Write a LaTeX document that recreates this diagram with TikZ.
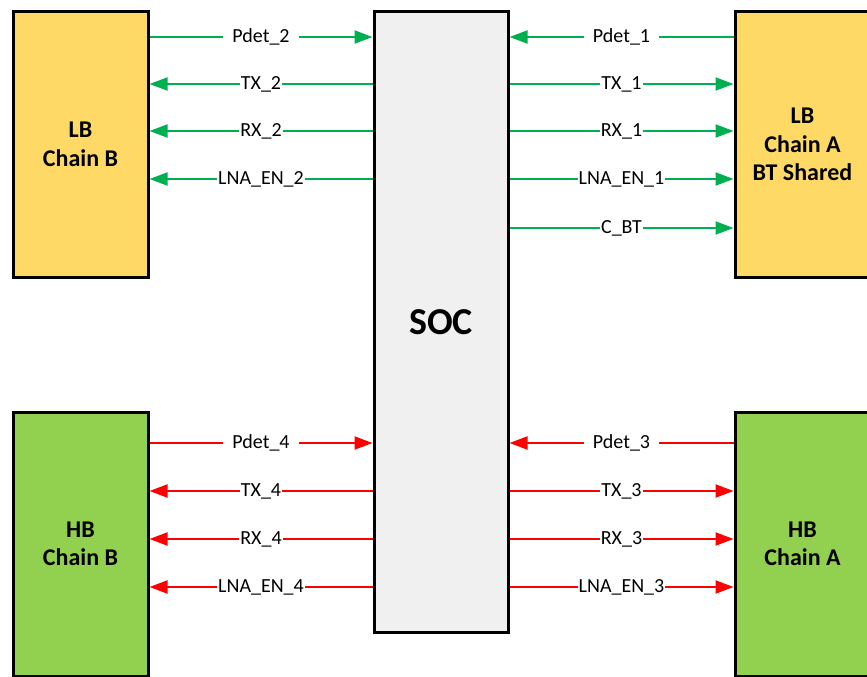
\documentclass[tikz,border=0pt]{standalone}
\usepackage{fontspec}
\setmainfont{Carlito}
\usetikzlibrary{arrows.meta}
\definecolor{boxyellow}{HTML}{FFD966}
\definecolor{boxgreen}{HTML}{92D050}
\definecolor{socgrey}{HTML}{F0F0F0}
\definecolor{siggreen}{HTML}{00B050}
\definecolor{sigred}{HTML}{FF0000}
\begin{document}
\begin{tikzpicture}[x=1pt,y=-1pt,
  blk/.style={draw=black, line width=3pt, minimum width=135pt, minimum height=265pt, inner sep=0pt, align=center, font=\fontsize{24}{28.5}\selectfont\bfseries},
  gsig/.style={draw=siggreen, line width=2pt, -{Triangle[length=18pt,width=13pt]}},
  rsig/.style={draw=sigred, line width=2pt, -{Triangle[length=18pt,width=13pt]}},
  lab/.style={fill=white, inner xsep=1pt, inner ysep=0pt, text=black, font=\fontsize{20}{24}\selectfont},
  plab/.style={lab, inner xsep=9pt}
]
\useasboundingbox (0,0) rectangle (867,677);
\clip (0,0) rectangle (867,677);
\node[blk, fill=boxyellow] (lbb) at (80.5,144.5) {LB\\Chain B};
\node[blk, fill=boxyellow] (lba) at (802.5,144.5) {LB\\Chain A\\BT Shared};
\node[draw=black, line width=3pt, fill=socgrey, minimum width=134pt, minimum height=620pt, inner sep=0pt, font=\fontsize{38}{44}\selectfont\bfseries] (soc) at (441,322) {SOC};
\node[blk, fill=boxgreen, minimum height=264pt] (hbb) at (80.5,544) {HB\\Chain B};
\node[blk, fill=boxgreen, minimum height=264pt] (hba) at (802.5,544) {HB\\Chain A};
% LB chain B (left, green)
\draw[gsig] (lbb.east |- 0,37) -- node[plab]{Pdet\_2} (soc.west |- 0,37);
\draw[gsig] (soc.west |- 0,84) -- node[lab]{TX\_2} (lbb.east |- 0,84);
\draw[gsig] (soc.west |- 0,131) -- node[lab]{RX\_2} (lbb.east |- 0,131);
\draw[gsig] (soc.west |- 0,179) -- node[lab]{LNA\_EN\_2} (lbb.east |- 0,179);
% LB chain A (right, green)
\draw[gsig] (lba.west |- 0,37) -- node[plab]{Pdet\_1} (soc.east |- 0,37);
\draw[gsig] (soc.east |- 0,84) -- node[lab]{TX\_1} (lba.west |- 0,84);
\draw[gsig] (soc.east |- 0,131) -- node[lab]{RX\_1} (lba.west |- 0,131);
\draw[gsig] (soc.east |- 0,179) -- node[lab]{LNA\_EN\_1} (lba.west |- 0,179);
\draw[gsig] (soc.east |- 0,228) -- node[lab]{C\_BT} (lba.west |- 0,228);
% HB chain B (left, red)
\draw[rsig] (hbb.east |- 0,443) -- node[plab]{Pdet\_4} (soc.west |- 0,443);
\draw[rsig] (soc.west |- 0,491) -- node[lab]{TX\_4} (hbb.east |- 0,491);
\draw[rsig] (soc.west |- 0,539) -- node[lab]{RX\_4} (hbb.east |- 0,539);
\draw[rsig] (soc.west |- 0,587) -- node[lab]{LNA\_EN\_4} (hbb.east |- 0,587);
% HB chain A (right, red)
\draw[rsig] (hba.west |- 0,443) -- node[plab]{Pdet\_3} (soc.east |- 0,443);
\draw[rsig] (soc.east |- 0,491) -- node[lab]{TX\_3} (hba.west |- 0,491);
\draw[rsig] (soc.east |- 0,539) -- node[lab]{RX\_3} (hba.west |- 0,539);
\draw[rsig] (soc.east |- 0,587) -- node[lab]{LNA\_EN\_3} (hba.west |- 0,587);
\end{tikzpicture}
\end{document}
